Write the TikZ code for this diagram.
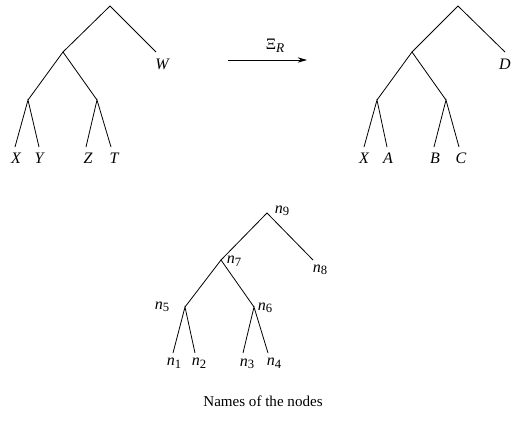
\documentclass[tikz,border=0pt]{standalone}
\usepackage{fontspec}
\setmainfont{Liberation Serif}
\usetikzlibrary{arrows.meta}
\newcommand{\nm}[1]{\textit{n}\raisebox{-0.35ex}{\fontsize{9.5}{10}\selectfont #1}}
\begin{document}
\begin{tikzpicture}[x=0.75pt,y=-0.75pt,line width=0.6pt,
  font=\fontsize{12}{14}\selectfont,
  lbl/.style={inner sep=1pt,font=\fontsize{12}{14}\selectfont\itshape}]
  \useasboundingbox (0,0) rectangle (512,421);
  % left tree
  \coordinate (l0) at (110,6);
  \coordinate (l1) at (63,52);
  \coordinate (lw) at (156,52);
  \coordinate (l2) at (28,100);
  \coordinate (l3) at (97,100);
  \coordinate (lx) at (15,147);
  \coordinate (ly) at (39,147);
  \coordinate (lz) at (86,147);
  \coordinate (lt) at (111,147);
  \draw (l1) -- (l0) -- (lw);
  \draw (l2) -- (l1) -- (l3);
  \draw (lx) -- (l2) -- (ly);
  \draw (lz) -- (l3) -- (lt);
  \node[lbl] (tw) at (162,64) {W};
  \node[lbl] (tx) at (16,158) {X};
  \node[lbl] (ty) at (39,158) {Y};
  \node[lbl] (tz) at (88,158) {Z};
  \node[lbl] (tt) at (114,158) {T};
  % the arrow
  \coordinate (a0) at (228,60);
  \coordinate (a1) at (307,60);
  \draw[-{Stealth[length=7pt,width=4pt]}] (a0) -- (a1);
  \node (xi) at (275,46) {Ξ\raisebox{-0.35ex}{\fontsize{10}{11}\selectfont\itshape R}};
  % right tree
  \coordinate (r0) at (458,6);
  \coordinate (r1) at (412,52);
  \coordinate (rd) at (505,52);
  \coordinate (r2) at (377,100);
  \coordinate (r3) at (446,100);
  \coordinate (rx) at (364,147);
  \coordinate (ra) at (387,147);
  \coordinate (rb) at (434,147);
  \coordinate (rc) at (459,147);
  \draw (r1) -- (r0) -- (rd);
  \draw (r2) -- (r1) -- (r3);
  \draw (rx) -- (r2) -- (ra);
  \draw (rb) -- (r3) -- (rc);
  \node[lbl,inner sep=0pt] (td) at (505,64) {D};
  \node[lbl] (sx) at (364,158) {X};
  \node[lbl] (sa) at (388,158) {A};
  \node[lbl] (sb) at (435,158) {B};
  \node[lbl] (sc) at (461,158) {C};
  % names of the nodes
  \coordinate (n9) at (267,213);
  \coordinate (n7) at (221,260);
  \coordinate (n8) at (313,260);
  \coordinate (n5) at (185,307);
  \coordinate (n6) at (254,307);
  \coordinate (n1) at (173,353);
  \coordinate (n2) at (195,353);
  \coordinate (n3) at (243,353);
  \coordinate (n4) at (268,353);
  \draw (n7) -- (n9) -- (n8);
  \draw (n5) -- (n7) -- (n6);
  \draw (n1) -- (n5) -- (n2);
  \draw (n3) -- (n6) -- (n4);
  \node (m9) at (282,211) {\nm{9}};
  \node (m7) at (234,261) {\nm{7}};
  \node (m8) at (320,270) {\nm{8}};
  \node (m5) at (162,307) {\nm{5}};
  \node (m6) at (265,308) {\nm{6}};
  \node (m1) at (174,363) {\nm{1}};
  \node (m2) at (199,363) {\nm{2}};
  \node (m3) at (247,364) {\nm{3}};
  \node (m4) at (274,363) {\nm{4}};
  \node[font=\fontsize{11.3}{13}\selectfont] (cap) at (263,401) {Names of the nodes};
\end{tikzpicture}
\end{document}
